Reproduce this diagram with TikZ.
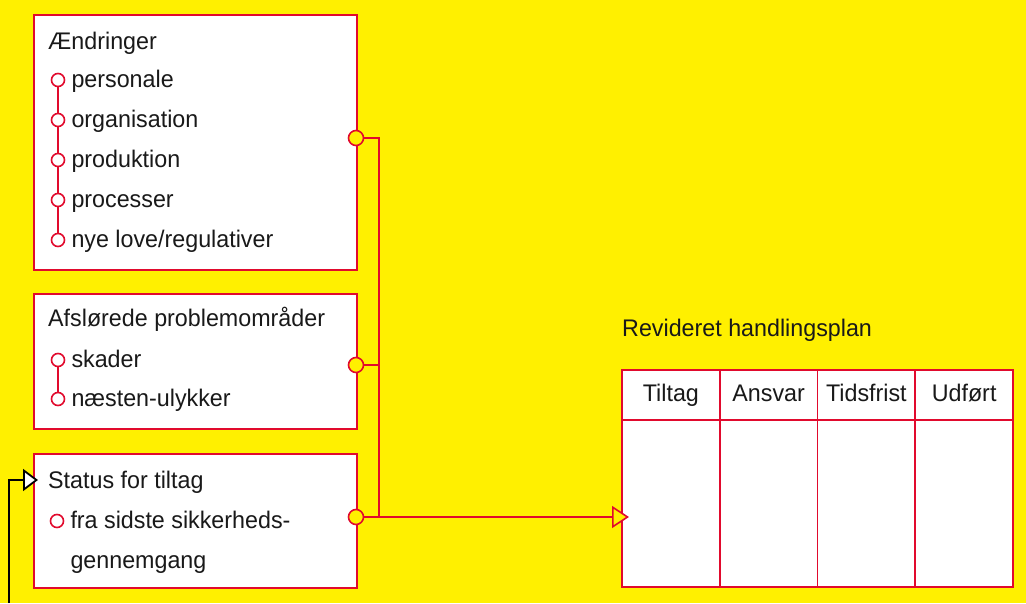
\documentclass[tikz,border=0pt]{standalone}
\usepackage{fontspec}
\setmainfont{Liberation Sans}[FakeStretch=0.97]
\usetikzlibrary{positioning,arrows.meta}
\definecolor{gul}{RGB}{255,240,0}
\definecolor{roed}{RGB}{225,10,45}

\begin{document}
\begin{tikzpicture}[x=1pt, y=-1pt, node distance=6pt,
  every node/.style={font=\fontsize{24}{28}\selectfont, inner sep=0pt, text=black!90},
  boks/.style={draw=roed, fill=white, line width=1.6pt, minimum width=323pt, anchor=north west},
  prik/.style={circle, draw=roed, fill=white, line width=1.6pt, minimum size=13pt},
  stik/.style={circle, draw=roed, fill=gul, line width=1.6pt, minimum size=15pt},
  punkt/.style={anchor=west, text height=15pt, text depth=0pt},
  celle/.style={draw=roed, fill=white, line width=1.6pt, minimum width=97.75pt, outer sep=0pt, text height=18pt, text depth=4pt},
  linje/.style={draw=roed, line width=1.6pt}]

	% baggrund
	\fill[gul] (0,0) rectangle (1026,603);
	
	% kasser til venstre
	\node[boks, minimum height=255pt] (aendr) at (33,14) {};
	\node[boks, minimum height=135pt] (probl) at (33,293) {};
	\node[boks, minimum height=134pt] (status) at (33,453) {};
	
	% Ændringer
	\node[anchor=base west] (h1) at (48,50) {Ændringer};
	\node[prik] (a1) at (58,80) {};
	\node[prik] (a2) at (58,120) {};
	\node[prik] (a3) at (58,160) {};
	\node[prik] (a4) at (58,200) {};
	\node[prik] (a5) at (58,240) {};
	\node[punkt, right=of a1] (t1) {personale};
	\node[punkt, right=of a2] (t2) {organisation};
	\node[punkt, right=of a3] (t3) {produktion};
	\node[punkt, right=of a4] (t4) {processer};
	\node[punkt, right=of a5] (t5) {nye love/regulativer};
	\draw[linje] (a1)--(a2);
	\draw[linje] (a2)--(a3);
	\draw[linje] (a3)--(a4);
	\draw[linje] (a4)--(a5);
	
	% Afslørede problemområder
	\node[anchor=base west] (h2) at (48,327) {Afslørede problemområder};
	\node[prik] (p1) at (58,360) {};
	\node[prik] (p2) at (58,399) {};
	\node[punkt, right=of p1] (u1) {skader};
	\node[punkt, right=of p2] (u2) {næsten-ulykker};
	\draw[linje] (p1)--(p2);
	
	% Status for tiltag
	\node[anchor=base west] (h3) at (48,488) {Status for tiltag};
	\node[prik] (s1) at (57,521) {};
	\node[punkt, right=of s1] (fra) {fra sidste sikkerheds-};
	\node[anchor=base west] (genn) at ([yshift=-40pt]fra.base west) {gennemgang};
	
	% handlingsplan
	\node[anchor=base west] (titel) at (622,337) {Revideret handlingsplan};
	\node[celle, minimum height=50pt, anchor=north west] (k1) at (622,370) {Tiltag};
	\node[celle, minimum height=50pt, right=0pt of k1] (k2) {Ansvar};
	\node[celle, minimum height=50pt, right=0pt of k2] (k3) {Tidsfrist};
	\node[celle, minimum height=50pt, right=0pt of k3] (k4) {Udført};
	\node[celle, minimum height=167pt, below=0pt of k1] (f1) {};
	\node[celle, minimum height=167pt, below=0pt of k2] (f2) {};
	\node[celle, minimum height=167pt, below=0pt of k3] (f3) {};
	\node[celle, minimum height=167pt, below=0pt of k4] (f4) {};
	
	% stik og samleledning
	\node[stik] (c1) at (356,138) {};
	\node[stik] (c2) at (356,365) {};
	\node[stik] (c3) at (356,517) {};
	\coordinate (samle) at (379,517);
	\coordinate (ind) at (629,517);
	\draw[linje] (c1) -| (samle);
	\draw[linje] (c2) -| (samle);
	\draw[linje, -{Triangle[fill=gul, length=17pt, width=22pt]}] (c3) -- (ind);
	
	% pil ind i status
	\coordinate (start) at (9,603);
	\coordinate (pil) at (38,480);
	\draw[line width=1.8pt, -{Triangle[fill=white, length=15pt, width=22pt]}] (start) |- (pil);
\end{tikzpicture}
\end{document}
